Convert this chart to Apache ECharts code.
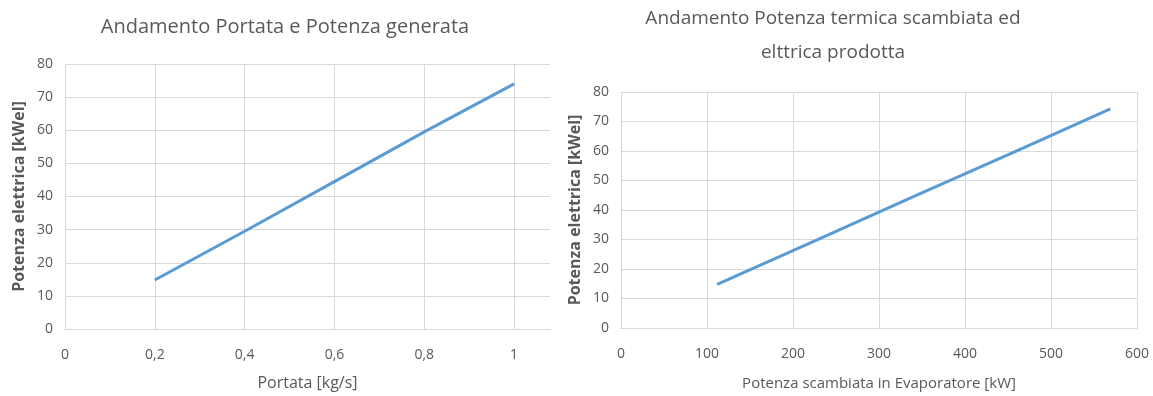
<!DOCTYPE html>
<html>
<head>
<meta charset="utf-8">
<script src="https://cdn.jsdelivr.net/npm/echarts@6/dist/echarts.min.js"></script>
<style>
html,body{margin:0;padding:0;background:#fff;}
#c{width:1153px;height:396px;}
</style>
</head>
<body>
<div id="c"></div>
<script>
// Left chart data
const portata = [0.2, 0.4, 0.6, 0.8, 1.0];
const potenzaEl1 = [14.8, 29.5, 44.5, 59.5, 74.0];
// Right chart data
const potenzaEvap = [111.8, 226, 340, 455, 569];
const potenzaEl2 = [14.8, 29.6, 44.5, 59.4, 74.3];

const titleLeft = 'Andamento Portata e Potenza generata';
const titleRight = 'Andamento Potenza termica scambiata ed\nelttrica prodotta';
const yName = 'Potenza elettrica [kWel]';
const xNameLeft = 'Portata [kg/s]';
const xNameRight = 'Potenza scambiata in Evaporatore [kW]';

const FONT = 'Open Sans';
const TXT = '#595959';
const GRID = '#d9d9d9';
const LINE = '#5b9bd5';

const chart = echarts.init(document.getElementById('c'));

function xAxisCommon(extra) {
  return Object.assign({
    type: 'value',
    nameLocation: 'middle',
    nameTextStyle: {color: TXT, fontFamily: FONT, fontSize: 15},
    axisLine: {show: true, lineStyle: {color: GRID, width: 1}},
    axisTick: {show: false},
    axisLabel: {color: TXT, fontFamily: FONT, fontSize: 14, margin: 19},
    splitLine: {show: true, lineStyle: {color: GRID, width: 1}}
  }, extra);
}
function yAxisCommon(extra) {
  return Object.assign({
    type: 'value',
    min: 0, max: 80, interval: 10,
    name: yName,
    nameLocation: 'middle',
    nameRotate: 90,
    nameTextStyle: {color: TXT, fontFamily: FONT, fontSize: 16, fontWeight: 'bold'},
    axisLine: {show: false},
    axisTick: {show: false},
    axisLabel: {color: TXT, fontFamily: FONT, fontSize: 14, margin: 12},
    splitLine: {show: true, lineStyle: {color: GRID, width: 1}}
  }, extra);
}

const fmtComma = v => String(+v.toFixed(2)).replace('.', ',');

chart.setOption({
  animation: false,
  backgroundColor: '#fff',
  title: [
    {text: titleLeft, left: 280, top: 12, textAlign: 'center',
     textStyle: {color: TXT, fontFamily: FONT, fontSize: 20, fontWeight: 'normal'}},
    {text: titleRight, left: 828, top: -3, textAlign: 'center',
     textStyle: {color: TXT, fontFamily: FONT, fontSize: 19, fontWeight: 'normal', lineHeight: 34}}
  ],
  grid: [
    {left: 65, top: 64, width: 485, height: 266},
    {left: 621, top: 92, width: 516, height: 238}
  ],
  xAxis: [
    xAxisCommon({gridIndex: 0, min: 0, max: 1.08, interval: 0.2, name: xNameLeft, nameGap: 46,
      nameTextStyle: {color: TXT, fontFamily: FONT, fontSize: 16},
      axisLabel: {color: TXT, fontFamily: FONT, fontSize: 14, margin: 19, showMaxLabel: false, formatter: fmtComma},
      splitLine: {show: true, showMaxLine: false, lineStyle: {color: GRID, width: 1}}}),
    xAxisCommon({gridIndex: 1, min: 0, max: 600, interval: 100, name: xNameRight, nameGap: 48})
  ],
  yAxis: [
    yAxisCommon({gridIndex: 0, nameGap: 38}),
    yAxisCommon({gridIndex: 1, nameGap: 38})
  ],
  series: [
    {type: 'line', xAxisIndex: 0, yAxisIndex: 0, symbol: 'none',
     data: portata.map((x, i) => [x, potenzaEl1[i]]),
     lineStyle: {color: LINE, width: 3}},
    {type: 'line', xAxisIndex: 1, yAxisIndex: 1, symbol: 'none',
     data: potenzaEvap.map((x, i) => [x, potenzaEl2[i]]),
     lineStyle: {color: LINE, width: 3}}
  ]
});
</script>
</body>
</html>
